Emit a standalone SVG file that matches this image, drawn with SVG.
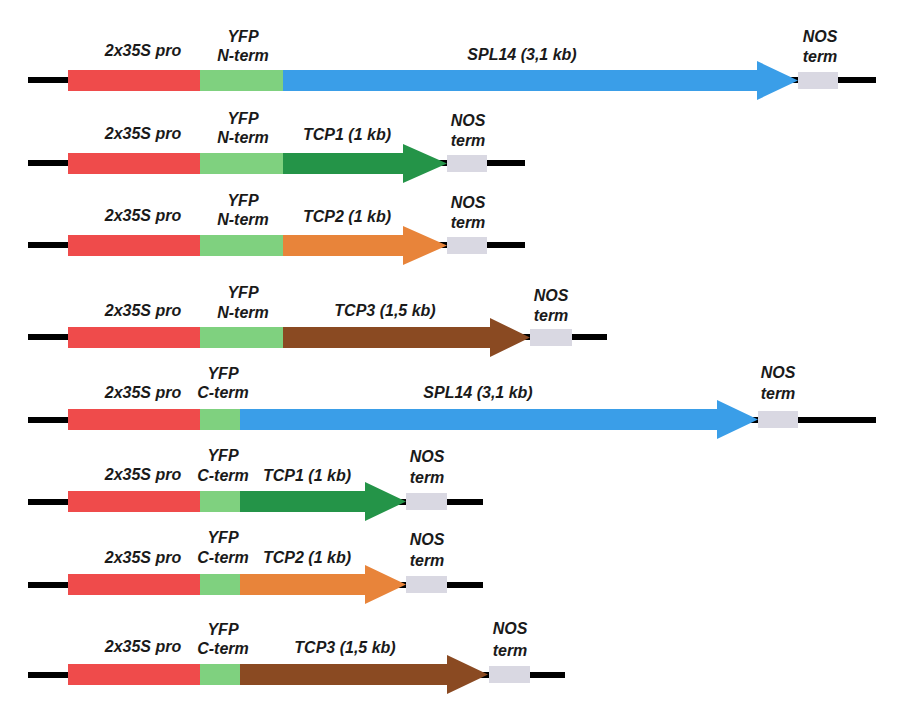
<svg xmlns="http://www.w3.org/2000/svg" width="905" height="722" viewBox="0 0 905 722">
<style>
.t{font-family:"Liberation Sans",Arial,sans-serif;font-weight:bold;font-style:italic;font-size:16px;fill:#1a1a1a;text-anchor:middle}
.bb{stroke:#000;stroke-width:6;fill:none}
.pro{fill:#ef4b4b}
.yfp{fill:#7fd17f}
.nos{fill:#d9d8e2}
.blue{fill:#3a9ee8}
.dg{fill:#249448}
.or{fill:#e8843a}
.br{fill:#8a4a22}
</style>
<rect width="905" height="722" fill="#fff"/>
<g id="backbones">
<line class="bb" x1="28" y1="80" x2="876" y2="80"/>
<line class="bb" x1="28" y1="163" x2="525" y2="163"/>
<line class="bb" x1="28" y1="245" x2="525" y2="245"/>
<line class="bb" x1="28" y1="337" x2="607" y2="337"/>
<line class="bb" x1="28" y1="420" x2="876" y2="420"/>
<line class="bb" x1="28" y1="502" x2="483" y2="502"/>
<line class="bb" x1="28" y1="585" x2="483" y2="585"/>
<line class="bb" x1="28" y1="675" x2="565" y2="675"/>
</g>
<g id="construct1">
<rect class="pro" x="68" y="70" width="132" height="21"/>
<rect class="yfp" x="200" y="70" width="83" height="21"/>
<path class="blue" d="M283 70H757V61L798 80.5L757 100V91H283Z"/>
<rect class="nos" x="798" y="72" width="40" height="17"/>
<text class="t" x="143" y="56">2x35S pro</text>
<text class="t" x="243" y="42">YFP</text>
<text class="t" x="243" y="61">N-term</text>
<text class="t" x="522" y="60">SPL14 (3,1 kb)</text>
<text class="t" x="820" y="42">NOS</text>
<text class="t" x="820" y="62">term</text>
</g>
<g id="construct2">
<rect class="pro" x="68" y="153" width="132" height="21"/>
<rect class="yfp" x="200" y="153" width="83" height="21"/>
<path class="dg" d="M283 153H403V144L447 163.5L403 183V174H283Z"/>
<rect class="nos" x="447" y="155" width="40" height="17"/>
<text class="t" x="143" y="139">2x35S pro</text>
<text class="t" x="243" y="124">YFP</text>
<text class="t" x="243" y="143">N-term</text>
<text class="t" x="347" y="140">TCP1 (1 kb)</text>
<text class="t" x="468" y="126">NOS</text>
<text class="t" x="468" y="146">term</text>
</g>
<g id="construct3">
<rect class="pro" x="68" y="235" width="132" height="21"/>
<rect class="yfp" x="200" y="235" width="83" height="21"/>
<path class="or" d="M283 235H403V226L447 245.5L403 265V256H283Z"/>
<rect class="nos" x="447" y="237" width="40" height="17"/>
<text class="t" x="143" y="221">2x35S pro</text>
<text class="t" x="243" y="206">YFP</text>
<text class="t" x="243" y="225">N-term</text>
<text class="t" x="347" y="222">TCP2 (1 kb)</text>
<text class="t" x="468" y="208">NOS</text>
<text class="t" x="468" y="228">term</text>
</g>
<g id="construct4">
<rect class="pro" x="68" y="327" width="132" height="21"/>
<rect class="yfp" x="200" y="327" width="83" height="21"/>
<path class="br" d="M283 327H490V318L530 337.5L490 357V348H283Z"/>
<rect class="nos" x="530" y="329" width="42" height="17"/>
<text class="t" x="143" y="316">2x35S pro</text>
<text class="t" x="243" y="298">YFP</text>
<text class="t" x="243" y="318">N-term</text>
<text class="t" x="385" y="316">TCP3 (1,5 kb)</text>
<text class="t" x="551" y="301">NOS</text>
<text class="t" x="551" y="321">term</text>
</g>
<g id="construct5">
<rect class="pro" x="68" y="409" width="132" height="21"/>
<rect class="yfp" x="200" y="409" width="40" height="21"/>
<path class="blue" d="M240 409H717V400L758 419.5L717 439V430H240Z"/>
<rect class="nos" x="758" y="411" width="40" height="17"/>
<text class="t" x="143" y="398">2x35S pro</text>
<text class="t" x="223" y="379">YFP</text>
<text class="t" x="223" y="398">C-term</text>
<text class="t" x="478" y="398">SPL14 (3,1 kb)</text>
<text class="t" x="778" y="378">NOS</text>
<text class="t" x="778" y="399">term</text>
</g>
<g id="construct6">
<rect class="pro" x="68" y="491" width="132" height="21"/>
<rect class="yfp" x="200" y="491" width="40" height="21"/>
<path class="dg" d="M240 491H365V482L406 501.5L365 521V512H240Z"/>
<rect class="nos" x="406" y="493" width="41" height="17"/>
<text class="t" x="143" y="480">2x35S pro</text>
<text class="t" x="223" y="461">YFP</text>
<text class="t" x="223" y="481">C-term</text>
<text class="t" x="307" y="481">TCP1 (1 kb)</text>
<text class="t" x="427" y="462">NOS</text>
<text class="t" x="427" y="483">term</text>
</g>
<g id="construct7">
<rect class="pro" x="68" y="574" width="132" height="21"/>
<rect class="yfp" x="200" y="574" width="40" height="21"/>
<path class="or" d="M240 574H365V565L406 584.5L365 604V595H240Z"/>
<rect class="nos" x="406" y="576" width="41" height="17"/>
<text class="t" x="143" y="563">2x35S pro</text>
<text class="t" x="223" y="543">YFP</text>
<text class="t" x="223" y="563">C-term</text>
<text class="t" x="307" y="563">TCP2 (1 kb)</text>
<text class="t" x="427" y="545">NOS</text>
<text class="t" x="427" y="566">term</text>
</g>
<g id="construct8">
<rect class="pro" x="68" y="664" width="132" height="21"/>
<rect class="yfp" x="200" y="664" width="40" height="21"/>
<path class="br" d="M240 664H447V655L488 674.5L447 694V685H240Z"/>
<rect class="nos" x="489" y="666" width="41" height="17"/>
<text class="t" x="143" y="652">2x35S pro</text>
<text class="t" x="223" y="635">YFP</text>
<text class="t" x="223" y="654">C-term</text>
<text class="t" x="345" y="653">TCP3 (1,5 kb)</text>
<text class="t" x="510" y="634">NOS</text>
<text class="t" x="510" y="656">term</text>
</g>
</svg>
